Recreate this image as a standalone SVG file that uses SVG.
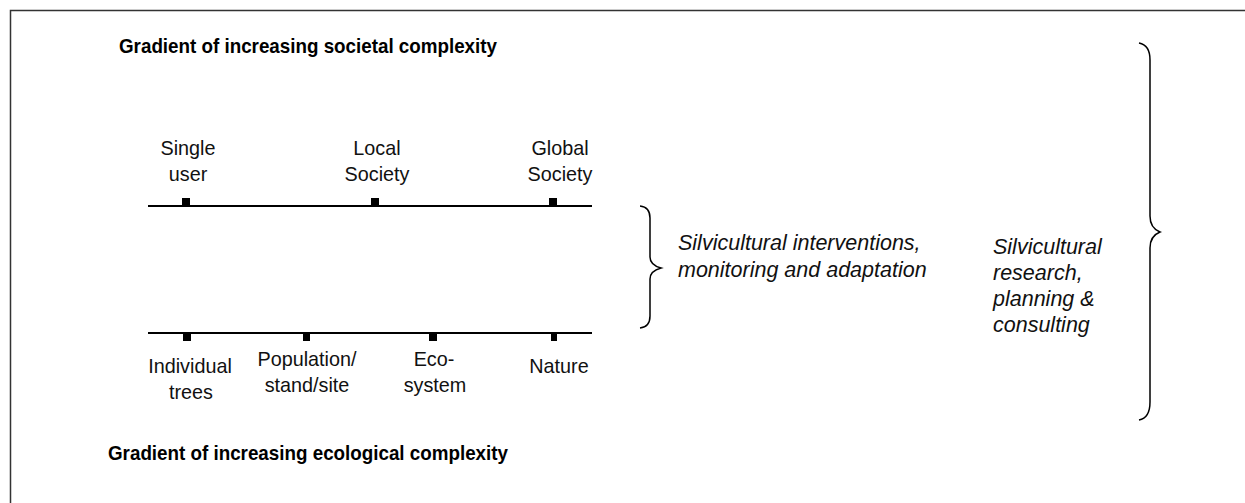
<svg xmlns="http://www.w3.org/2000/svg" width="1245" height="503" viewBox="0 0 1245 503">
  <style>
    .lbl { font-family: "Liberation Sans", Arial, sans-serif; font-size: 19.8px; fill: #111; text-anchor: middle; }
    .title { font-family: "Liberation Sans", Arial, sans-serif; font-size: 20.5px; font-weight: bold; fill: #000; }
    .note { font-family: "Liberation Sans", Arial, sans-serif; font-size: 21.5px; font-style: italic; fill: #111; }
    .axis { stroke: #000; stroke-width: 2; fill: none; }
    .brace { stroke: #000; stroke-width: 1.5; fill: none; }
    .tick { fill: #000; }
  </style>
  <rect width="1245" height="503" fill="#fff"/>
  <!-- frame (open on right and bottom) -->
  <rect x="10.5" y="10.5" width="1260" height="520" fill="none" stroke="#333" stroke-width="1.5"/>

  <g id="title-societal">
    <text class="title" x="119" y="53" textLength="378" lengthAdjust="spacingAndGlyphs">Gradient of increasing societal complexity</text>
  </g>
  <g id="title-ecological">
    <text class="title" x="108" y="460" textLength="400" lengthAdjust="spacingAndGlyphs">Gradient of increasing ecological complexity</text>
  </g>

  <g id="societal-axis">
    <line class="axis" x1="148" y1="206" x2="592" y2="206"/>
    <rect class="tick" x="182" y="198" width="8" height="8"/>
    <rect class="tick" x="371" y="198" width="8" height="8"/>
    <rect class="tick" x="549" y="198" width="8" height="8"/>
  </g>
  <g id="single-user">
    <text class="lbl" x="188" y="155">Single</text>
    <text class="lbl" x="188" y="181">user</text>
  </g>
  <g id="local-society">
    <text class="lbl" x="377" y="155">Local</text>
    <text class="lbl" x="377" y="181">Society</text>
  </g>
  <g id="global-society">
    <text class="lbl" x="560" y="155">Global</text>
    <text class="lbl" x="560" y="181">Society</text>
  </g>

  <g id="ecological-axis">
    <line class="axis" x1="148" y1="333" x2="592" y2="333"/>
    <rect class="tick" x="183" y="333" width="8" height="8"/>
    <rect class="tick" x="303" y="333" width="7" height="8"/>
    <rect class="tick" x="429" y="333" width="8" height="8"/>
    <rect class="tick" x="551" y="333" width="6" height="8"/>
  </g>
  <g id="individual-trees">
    <text class="lbl" x="190" y="373">Individual</text>
    <text class="lbl" x="191" y="399">trees</text>
  </g>
  <g id="population-stand-site">
    <text class="lbl" x="307" y="366">Population/</text>
    <text class="lbl" x="307" y="392">stand/site</text>
  </g>
  <g id="ecosystem">
    <text class="lbl" x="434" y="366">Eco-</text>
    <text class="lbl" x="435" y="392">system</text>
  </g>
  <g id="nature">
    <text class="lbl" x="559" y="373">Nature</text>
  </g>

  <g id="connectors">
    <!-- inner brace spanning both axes -->
    <path class="brace" d="M640,206 Q650,207 650,218 L650,257 Q650,265 661,268 Q650,271 650,279 L650,316 Q650,327 640,328"/>
    <!-- outer brace spanning the whole figure -->
    <path class="brace" d="M1139,43 Q1150,45 1150,60 L1150,216 Q1150,228 1160,232 Q1150,236 1150,248 L1150,402 Q1150,418 1139,420"/>
  </g>

  <g id="interventions">
    <text class="note" x="678" y="250">Silvicultural interventions,</text>
    <text class="note" x="678" y="277">monitoring and adaptation</text>
  </g>
  <g id="research">
    <text class="note" x="993" y="254">Silvicultural</text>
    <text class="note" x="993" y="280">research,</text>
    <text class="note" x="993" y="306">planning &amp;</text>
    <text class="note" x="993" y="332">consulting</text>
  </g>
</svg>
